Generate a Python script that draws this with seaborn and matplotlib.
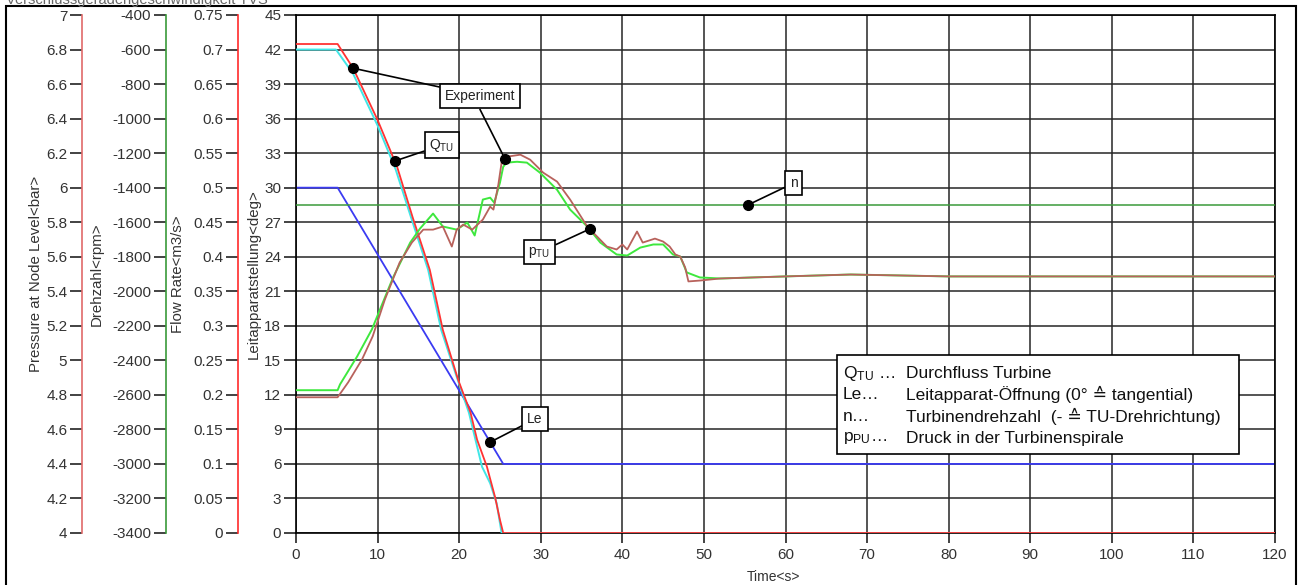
import numpy as np
import matplotlib
matplotlib.use("Agg")
import matplotlib.pyplot as plt
import matplotlib.patches as patches
import seaborn as sns

# Guide vane opening (Le) [deg]
time_le = [0, 5.1, 25.4, 120]
le_deg = [30, 30, 6, 6]

# Turbine speed n [rpm]
time_n = [0, 120]
n_rpm = [-1500, -1500]

# Flow rate Q_TU [m3/s] - red curve
time_q_red = [0, 5.1, 7.0, 10.0, 12.4, 14.3, 16.4, 18.0, 19.9, 21.4, 22.2, 23.4, 24.4, 25.0, 25.4, 120]
q_red = [0.708, 0.708, 0.673, 0.598, 0.530, 0.457, 0.381, 0.294, 0.221, 0.174, 0.135, 0.096, 0.052, 0.019, 0.0, 0.0]

# Flow rate Q_TU [m3/s] - cyan curve
time_q_cyan = [0, 4.9, 7.0, 10.0, 12.2, 14.1, 16.2, 17.8, 19.7, 21.2, 22.0, 22.8, 23.8, 24.6, 25.2, 120]
q_cyan = [0.700, 0.700, 0.665, 0.590, 0.527, 0.457, 0.381, 0.294, 0.226, 0.174, 0.135, 0.096, 0.072, 0.043, 0.0, 0.0]

# Pressure p_TU [bar] - green curve
time_p_green = [0, 5.1, 5.4, 7.5, 9.3, 11.9, 14.0, 15.2, 16.8, 18.0, 19.7, 21.0, 21.9, 22.9, 23.8,
                24.3, 25.0, 25.4, 25.8, 27.1, 28.3, 29.9, 32.0, 33.6, 35.7, 37.3, 39.3, 40.6, 42.2,
                43.8, 45.0, 46.2, 47.1, 47.9, 49.5, 52.0, 60.0, 68.0, 80.0, 120.0]
p_green = [4.827, 4.827, 4.861, 5.023, 5.179, 5.480, 5.682, 5.763, 5.850, 5.775, 5.757, 5.798,
           5.723, 5.931, 5.942, 5.913, 6.029, 6.121, 6.145, 6.150, 6.145, 6.087, 5.988, 5.873,
           5.775, 5.682, 5.613, 5.607, 5.653, 5.671, 5.671, 5.613, 5.601, 5.509, 5.480, 5.474,
           5.486, 5.497, 5.486, 5.486]

# Pressure p_TU [bar] - brown curve
time_p_brown = [0, 5.1, 6.4, 8.1, 9.4, 10.9, 12.7, 14.2, 15.6, 16.8, 18.0, 19.1, 19.7, 20.5, 21.6,
                22.9, 23.8, 24.2, 24.8, 25.2, 25.8, 27.5, 28.7, 30.3, 32.0, 33.6, 35.7, 38.1, 39.3,
                40.0, 40.6, 41.8, 42.5, 44.0, 45.0, 45.8, 46.5, 47.1, 47.7, 48.1, 49.5, 52.0, 60.0,
                68.0, 80.0, 120.0]
p_brown = [4.786, 4.786, 4.873, 5.006, 5.139, 5.353, 5.566, 5.682, 5.757, 5.757, 5.775, 5.659,
           5.757, 5.786, 5.757, 5.815, 5.890, 5.873, 6.017, 6.145, 6.179, 6.191, 6.162, 6.087,
           6.035, 5.931, 5.775, 5.659, 5.642, 5.671, 5.642, 5.746, 5.682, 5.705, 5.688, 5.659,
           5.613, 5.601, 5.538, 5.457, 5.462, 5.474, 5.486, 5.497, 5.486, 5.486]

legend_keys = [r"Q$_{\mathrm{TU}}$ …", "Le…", "n…", r"p$_{\mathrm{PU}}$…"]
legend_desc = ["Durchfluss Turbine",
               "Leitapparat-Öffnung (0° ≙ tangential)",
               "Turbinendrehzahl  (- ≙ TU-Drehrichtung)",
               "Druck in der Turbinenspirale"]

sns.set_theme(style="white")
plt.rcParams["font.family"] = ["Liberation Sans", "DejaVu Sans"]
plt.rcParams["mathtext.fontset"] = "custom"
plt.rcParams["mathtext.rm"] = "Liberation Sans"
plt.rcParams["mathtext.it"] = "Liberation Sans:italic"
plt.rcParams["axes.unicode_minus"] = False

fig = plt.figure(figsize=(13, 5.85), dpi=100, facecolor="white")
ax = fig.add_axes([296 / 1300, 52 / 585, 979 / 1300, 518 / 585])


def make_twin(offset, color):
    tw = ax.twinx()
    tw.yaxis.tick_left()
    tw.yaxis.set_label_position("left")
    for s in ["top", "right", "bottom"]:
        tw.spines[s].set_visible(False)
    tw.spines["left"].set_visible(True)
    tw.spines["left"].set_position(("axes", offset))
    tw.spines["left"].set_color(color)
    tw.spines["left"].set_linewidth(1.2)
    tw.tick_params(axis="y", left=True, right=False, labelleft=True, labelright=False,
                   direction="out", length=8.6, width=1.2, color="#222222",
                   labelsize=11, labelcolor="#333333", pad=2)
    return tw


ax_n = make_twin(-0.1328, "#3a9a3a")
ax_q = make_twin(-0.0592, "#ff2a2a")
ax_p = make_twin(-0.2186, "#e06a6a")

# curves
sns.lineplot(x=time_le, y=le_deg, ax=ax, color="#3b3bf2", linewidth=1.3)
sns.lineplot(x=time_n, y=n_rpm, ax=ax_n, color="#3a9a3a", linewidth=1.1)
sns.lineplot(x=time_q_cyan, y=q_cyan, ax=ax_q, color="#40e6e6", linewidth=1.4)
sns.lineplot(x=time_q_red, y=q_red, ax=ax_q, color="#ff3333", linewidth=1.3)
sns.lineplot(x=time_p_green, y=p_green, ax=ax_p, color="#3ee83e", linewidth=1.4)
sns.lineplot(x=time_p_brown, y=p_brown, ax=ax_p, color="#b8625c", linewidth=1.3)

# axes ranges / ticks
ax.set_xlim(0, 120)
ax.set_ylim(0, 45)
ax.set_xticks(np.arange(0, 121, 10))
ax.set_yticks(np.arange(0, 46, 3))
ax_n.set_ylim(-3400, -400)
ax_n.set_yticks(np.arange(-3400, -399, 200))
ax_q.set_ylim(0, 0.75)
qt = np.round(np.arange(0, 0.751, 0.05), 2)
ax_q.set_yticks(qt)
ax_q.set_yticklabels([f"{v:g}" for v in qt])
ax_p.set_ylim(4, 7)
pt = np.round(np.arange(4, 7.01, 0.2), 1)
ax_p.set_yticks(pt)
ax_p.set_yticklabels([f"{v:g}" for v in pt])

ax.grid(True, color="#262626", linewidth=1.1)
for s in ax.spines.values():
    s.set_color("black")
    s.set_linewidth(1.2)
ax.tick_params(axis="both", left=True, bottom=True, direction="out", length=8.6, width=1.2,
               color="#222222", labelsize=11, labelcolor="#333333")
ax.tick_params(axis="x", length=7, pad=4)
ax.tick_params(axis="y", pad=2)

# axis labels
ax.set_xlabel("Time<s>", fontsize=10, color="#333333", va="center")
ax.xaxis.set_label_coords(0.488, -0.085)
ax.set_ylabel("Leitapparatstellung<deg>", fontsize=10.8, color="#333333", va="center")
ax.yaxis.set_label_coords(-0.0436, 0.5)
ax_q.set_ylabel("Flow Rate<m3/s>", fontsize=10.8, color="#333333", va="center")
ax_q.yaxis.set_label_coords(-0.1202, 0.5)
ax_n.set_ylabel("Drehzahl<rpm>", fontsize=10.8, color="#333333", va="center")
ax_n.yaxis.set_label_coords(-0.2036, 0.5)
ax_p.set_ylabel("Pressure at Node Level<bar>", fontsize=10.8, color="#333333", va="center")
ax_p.yaxis.set_label_coords(-0.2656, 0.5)

# callouts (dot on curve + boxed label), drawn on the top-most axes
box = dict(boxstyle="square,pad=0.35", fc="white", ec="black", lw=1.2)
arrow = dict(arrowstyle="-", color="black", lw=1.2, shrinkA=0, shrinkB=0)
callouts = [
    ("Experiment", 7.0, np.interp(7.0, time_q_red, q_red), ax_q, (22.55, 37.98)),
    ("", 25.6, np.interp(25.6, time_p_brown, p_brown), ax_p, (22.55, 36.8)),
    (r"Q$_{\mathrm{TU}}$", 12.1, np.interp(12.1, time_q_red, q_red), ax_q, (17.9, 33.7)),
    (r"p$_{\mathrm{TU}}$", 36.0, np.interp(36.0, time_p_brown, p_brown), ax_p, (29.85, 24.4)),
    ("n", 55.4, np.interp(55.4, time_n, n_rpm), ax_n, (61.0, 30.4)),
    ("Le", 23.8, np.interp(23.8, time_le, le_deg), ax, (29.3, 9.9)),
]
for label, tx, ty, src, txt in callouts[::-1]:
    ax_p.annotate(label, xy=(tx, ty), xycoords=src.transData, xytext=txt,
                  textcoords=ax.transData, ha="center", va="center", fontsize=10,
                  color="#222222", bbox=box if label else None, arrowprops=arrow,
                  zorder=5)
    ax_p.plot([tx], [ty], "o", color="black", markersize=7, transform=src.transData,
              zorder=6)
ax_p.set_ylim(4, 7)

# legend box with description of the variables
ax_p.add_patch(patches.Rectangle((0.5526, 0.1524), 0.4106, 0.191, transform=ax.transAxes,
                                 fc="white", ec="black", lw=1.2, zorder=7))
for i, (k, d) in enumerate(zip(legend_keys, legend_desc)):
    yy = 0.3087 - i * 0.0418
    ax_p.text(0.5587, yy, k, transform=ax.transAxes, fontsize=12.5, va="center",
              ha="left", color="#111111", zorder=8)
    ax_p.text(0.6231, yy, d, transform=ax.transAxes, fontsize=12.5, va="center",
              ha="left", color="#111111", zorder=8)

# header text (clipped at the top, as in the source) and outer frame
fig.text(6 / 1300, 1 - 4 / 585, "Verschlussgeradengeschwindigkeit TVS", fontsize=10.5,
         color="#666666", va="baseline", ha="left")
fig.add_artist(patches.Rectangle((6 / 1300, -0.01), 1290 / 1300, 1.0 - 5.5 / 585 + 0.01,
                                 transform=fig.transFigure, fill=False, ec="black", lw=1.5))

fig.savefig("out.png", dpi=100)
